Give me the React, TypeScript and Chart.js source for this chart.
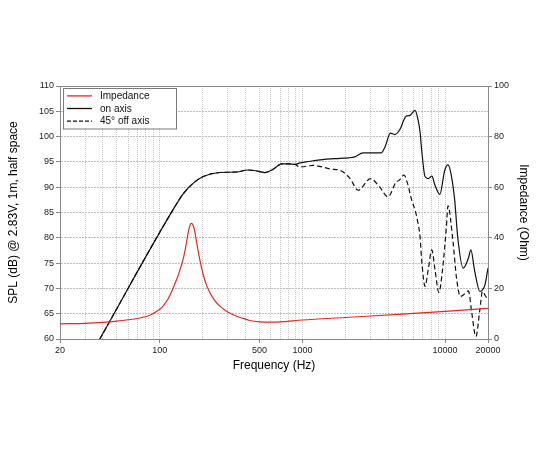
import React, { useEffect, useRef } from 'react';
import { Chart, registerables } from 'chart.js';

Chart.register(...registerables);

// ---- data ----
const impFreq = [20, 30, 40, 50, 60, 70, 80, 88, 95, 104, 112, 118, 124, 132, 139, 145, 150, 155, 159, 163, 167, 171, 175, 179, 183, 187, 194, 202, 212, 225, 240, 264, 290, 328, 380, 428, 500, 600, 700, 1000, 2000, 5000, 10000, 20000];
const impOhm = [6.0, 6.2, 6.6, 7.1, 7.6, 8.1, 8.9, 9.8, 10.9, 12.6, 15.0, 17.3, 20.1, 23.8, 27.5, 31.0, 34.5, 39.0, 42.6, 45.0, 45.7, 45.1, 43.2, 40.2, 37.0, 34.0, 29.5, 25.4, 21.5, 18.3, 15.6, 13.0, 11.2, 9.6, 8.2, 7.3, 6.8, 6.7, 6.8, 7.5, 8.5, 9.8, 10.9, 12.1];

const onFreq = [38, 128, 147, 172, 202, 264, 346, 416, 480, 546, 620, 718, 800, 886, 963, 1068, 1330, 1836, 2100, 2330, 2660, 3580, 3800, 4140, 4440, 4800, 5330, 5680, 6160, 6480, 6680, 6860, 7240, 7620, 8080, 8500, 9200, 9940, 10480, 11000, 11680, 12280, 13400, 14580, 15170, 16160, 17540, 19040, 20000];
const onSpl = [60.0, 86.2, 88.8, 90.8, 92.1, 92.9, 93.0, 93.4, 93.2, 92.9, 93.5, 94.6, 94.6, 94.5, 94.8, 95.0, 95.4, 95.7, 95.8, 96.0, 96.8, 96.8, 98.0, 100.7, 100.4, 101.3, 104.0, 104.2, 105.2, 103.2, 100.9, 97.3, 92.1, 91.7, 92.2, 90.4, 88.6, 93.3, 94.4, 92.7, 87.5, 80.0, 74.0, 76.0, 77.6, 73.3, 69.4, 70.7, 74.0];

const offFreq = [38, 128, 147, 172, 202, 264, 346, 416, 480, 546, 620, 718, 800, 886, 963, 1190, 1570, 1880, 2160, 2460, 3010, 3490, 3980, 4560, 4740, 5160, 5450, 5830, 6160, 6400, 6680, 6860, 7240, 7620, 8080, 8500, 9050, 9600, 10220, 10480, 11400, 12000, 12800, 13400, 14580, 15400, 16450, 17540, 18280, 19280, 20000];
const offSpl = [60.0, 86.2, 88.8, 90.8, 92.1, 92.9, 93.0, 93.4, 93.2, 92.9, 93.5, 94.6, 94.6, 94.5, 94.0, 94.3, 93.6, 93.2, 91.7, 89.4, 91.7, 90.0, 88.1, 91.1, 91.3, 92.4, 90.8, 87.5, 85.5, 83.5, 80.2, 75.6, 70.4, 73.7, 77.6, 73.7, 69.2, 73.7, 82.2, 86.3, 78.9, 72.3, 68.4, 68.7, 69.5, 65.1, 60.5, 65.8, 69.4, 68.4, 67.9];

const xGridValues = [20, 30, 40, 50, 60, 70, 80, 90, 100, 200, 300, 400, 500, 600, 700, 800, 900, 1000, 2000, 3000, 4000, 5000, 6000, 7000, 8000, 9000, 10000, 20000];
const xTickLabels = [20, 100, 500, 1000, 10000, 20000];

const seriesLabels = ['Impedance', 'on axis', '45° off axis'];

const RED = '#e5281f';
const BLACK = '#111111';
const FONT = "'Liberation Sans', Arial, Helvetica, sans-serif";

const toPoints = (xs: number[], ys: number[]) => xs.map((x, i) => ({ x, y: ys[i] }));

const boxLegend = {
  id: 'boxLegend',
  afterDatasetsDraw(chart: any) {
    const { ctx, chartArea } = chart;
    const x0 = chartArea.left + 3;
    const y0 = chartArea.top + 1.5;
    const w = 113;
    const h = 40.5;
    ctx.save();
    ctx.fillStyle = '#ffffff';
    ctx.fillRect(x0, y0, w, h);
    ctx.strokeStyle = '#7a7a7a';
    ctx.lineWidth = 1;
    ctx.strokeRect(Math.round(x0) + 0.5, Math.round(y0) + 0.5, w, h);
    const rows = [8.4, 21, 33.7];
    chart.data.datasets.forEach((ds: any, i: number) => {
      const y = y0 + rows[i];
      ctx.beginPath();
      ctx.setLineDash(ds.borderDash && ds.borderDash.length ? [4, 2] : []);
      ctx.strokeStyle = ds.borderColor;
      ctx.lineWidth = 1.3;
      ctx.moveTo(x0 + 4, y);
      ctx.lineTo(x0 + 29, y);
      ctx.stroke();
      ctx.setLineDash([]);
      ctx.fillStyle = '#111';
      ctx.font = `10px ${FONT}`;
      ctx.textBaseline = 'middle';
      ctx.textAlign = 'left';
      ctx.fillText(ds.label, x0 + 37, y + 0.5);
    });
    ctx.restore();
  },
};

const topBorder = {
  id: 'topBorder',
  beforeDatasetsDraw(chart: any) {
    const { ctx, chartArea } = chart;
    ctx.save();
    ctx.strokeStyle = '#8a8a8a';
    ctx.lineWidth = 1;
    ctx.beginPath();
    const y = Math.round(chartArea.top) + 0.5;
    ctx.moveTo(chartArea.left, y);
    ctx.lineTo(chartArea.right, y);
    ctx.stroke();
    ctx.restore();
  },
};

export default function App() {
  const canvasRef = useRef<HTMLCanvasElement | null>(null);

  useEffect(() => {
    if (!canvasRef.current) return;
    const chart = new Chart(canvasRef.current, {
      type: 'line',
      data: {
        datasets: [
          {
            label: seriesLabels[0],
            data: toPoints(impFreq, impOhm),
            borderColor: RED,
            borderWidth: 1.2,
            pointRadius: 0,
            cubicInterpolationMode: 'monotone',
            yAxisID: 'y1',
          },
          {
            label: seriesLabels[1],
            data: toPoints(onFreq, onSpl),
            borderColor: BLACK,
            borderWidth: 1.2,
            pointRadius: 0,
            cubicInterpolationMode: 'monotone',
            yAxisID: 'y',
          },
          {
            label: seriesLabels[2],
            data: toPoints(offFreq, offSpl),
            borderColor: BLACK,
            borderWidth: 1.2,
            borderDash: [5, 3],
            pointRadius: 0,
            cubicInterpolationMode: 'monotone',
            yAxisID: 'y',
          },
        ],
      },
      options: {
        animation: false,
        responsive: false,
        layout: { padding: { top: 86, left: 0, right: 0, bottom: 0 } },
        plugins: {
          legend: { display: false },
          tooltip: { enabled: false },
        },
        scales: {
          x: {
            type: 'logarithmic',
            min: 20,
            max: 20000,
            afterBuildTicks: (scale: any) => {
              scale.ticks = xGridValues.map((v) => ({ value: v }));
            },
            afterFit: (scale: any) => {
              scale.height = 111;
            },
            ticks: {
              autoSkip: false,
              maxRotation: 0,
              minRotation: 0,
              padding: 2,
              color: '#222',
              font: { size: 9, family: FONT },
              callback: (value: any) => (xTickLabels.includes(Number(value)) ? String(value) : ''),
            },
            grid: {
              color: '#cacaca',
              lineWidth: 1,
              tickLength: 4,
              tickColor: (ctx: any) =>
                ctx.tick && xTickLabels.includes(ctx.tick.value) ? '#8a8a8a' : 'rgba(0,0,0,0)',
            },
            border: { display: true, color: '#8a8a8a', width: 1, dash: [1, 1] },
            title: {
              display: true,
              text: 'Frequency (Hz)',
              color: '#000',
              font: { size: 12, family: FONT },
              padding: { top: 0, bottom: 76.8 },
            },
          },
          y: {
            type: 'linear',
            position: 'left',
            min: 60,
            max: 110,
            afterFit: (scale: any) => {
              scale.width = 60;
            },
            ticks: {
              stepSize: 5,
              padding: 2,
              color: '#222',
              font: { size: 9, family: FONT },
            },
            grid: {
              color: '#bdbdbd',
              lineWidth: 1,
              tickLength: 4,
              tickColor: '#8a8a8a',
            },
            border: { display: true, color: '#8a8a8a', width: 1, dash: [2, 1] },
            title: {
              display: true,
              text: 'SPL (dB) @ 2.83V, 1m, half space',
              color: '#000',
              font: { size: 12, family: FONT },
              padding: { top: 6.8, bottom: 0 },
            },
          },
          y1: {
            type: 'linear',
            position: 'right',
            min: 0,
            max: 100,
            afterFit: (scale: any) => {
              scale.width = 62;
            },
            ticks: {
              stepSize: 20,
              padding: 2,
              color: '#222',
              font: { size: 9, family: FONT },
            },
            grid: {
              drawOnChartArea: false,
              tickLength: 4,
              tickColor: '#8a8a8a',
            },
            border: { display: true, color: '#8a8a8a', width: 1 },
            title: {
              display: true,
              text: 'Impedance (Ohm)',
              color: '#000',
              font: { size: 12, family: FONT },
              padding: { top: 19.8, bottom: 0 },
            },
          },
        },
      } as any,
      plugins: [topBorder, boxLegend],
    });
    return () => chart.destroy();
  }, []);

  return (
    <div style={{ position: 'fixed', left: 0, top: 0, width: 550, height: 450, background: '#fff' }}>
      <canvas ref={canvasRef} width={550} height={450} style={{ width: 550, height: 450, display: 'block' }} />
    </div>
  );
}
